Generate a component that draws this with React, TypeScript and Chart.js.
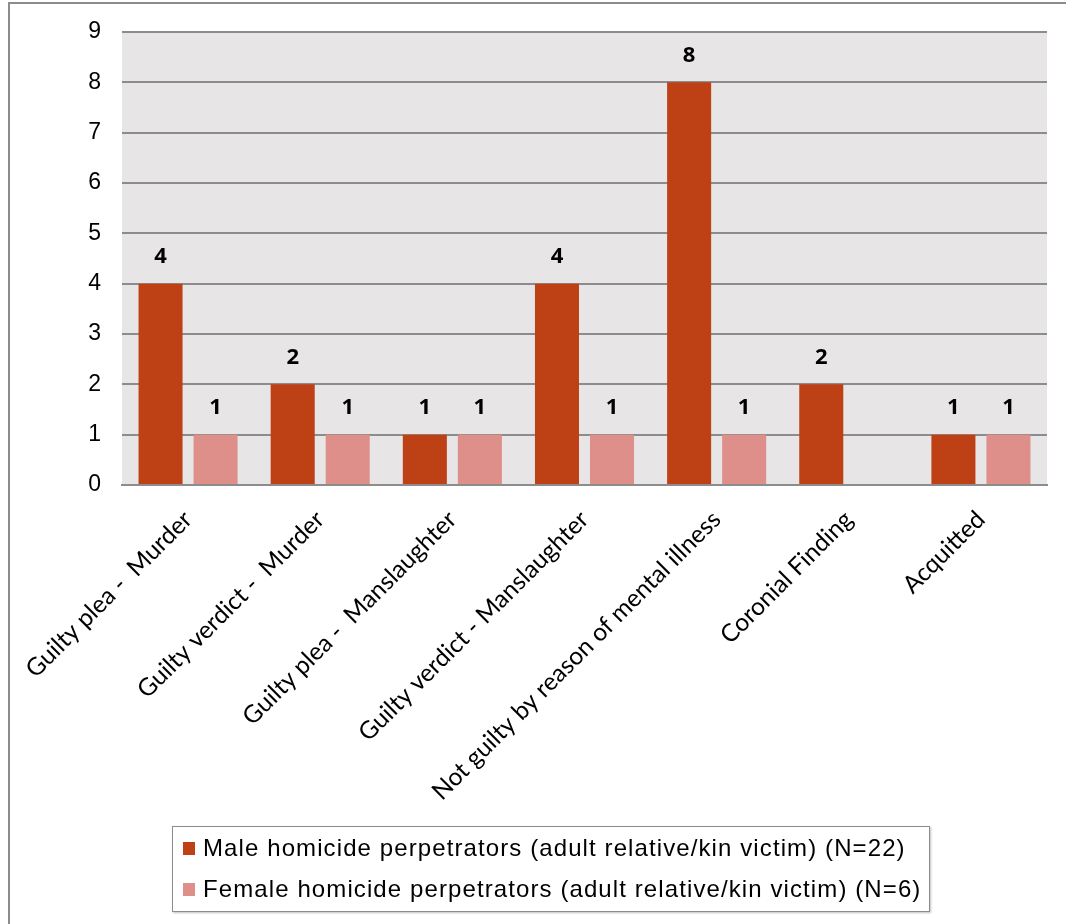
import React, { useEffect, useRef } from "react";
import { Chart, registerables } from "chart.js";

Chart.register(...registerables);

const categories = [
  "Guilty plea -  Murder",
  "Guilty verdict -  Murder",
  "Guilty plea -  Manslaughter",
  "Guilty verdict - Manslaughter",
  "Not guilty by reason of mental illness",
  "Coronial Finding",
  "Acquitted",
];
const maleValues = [4, 2, 1, 4, 8, 2, 1];
const femaleValues = [1, 1, 1, 1, 1, 0, 1];
const seriesNames = [
  "Male homicide perpetrators (adult relative/kin victim) (N=22)",
  "Female homicide perpetrators (adult relative/kin victim) (N=6)",
];
const seriesColors = ["#be4015", "#df8f89"];
const yTicks = [0, 1, 2, 3, 4, 5, 6, 7, 8, 9];

const plotBg = {
  id: "plotBg",
  beforeDraw(chart: any) {
    const { ctx, chartArea } = chart;
    ctx.save();
    ctx.fillStyle = "#e7e5e5";
    ctx.fillRect(chartArea.left, chartArea.top, chartArea.right - chartArea.left, chartArea.bottom - chartArea.top);
    ctx.restore();
  },
};

const dataLabels = {
  id: "dataLabels",
  afterDatasetsDraw(chart: any) {
    const { ctx } = chart;
    ctx.save();
    ctx.font = "bold 22px 'Open Sans'";
    ctx.fillStyle = "#000";
    ctx.textAlign = "center";
    ctx.textBaseline = "middle";
    chart.data.datasets.forEach((ds: any, i: number) => {
      const meta = chart.getDatasetMeta(i);
      meta.data.forEach((bar: any, j: number) => {
        const v = ds.data[j];
        if (!v) return;
        ctx.fillText(String(v), bar.x, bar.y - 27);
      });
    });
    ctx.restore();
  },
};

export default function App() {
  const ref = useRef<HTMLCanvasElement>(null);
  useEffect(() => {
    if (!ref.current) return;
    const chart = new Chart(ref.current, {
      type: "bar",
      data: {
        labels: categories,
        datasets: [
          { label: seriesNames[0], data: maleValues, backgroundColor: seriesColors[0] },
          { label: seriesNames[1], data: femaleValues, backgroundColor: seriesColors[1] },
        ],
      },
      plugins: [plotBg, dataLabels],
      options: {
        responsive: false,
        animation: false,
        layout: { padding: { top: 28, right: 19, left: 0, bottom: 0 } },
        plugins: { legend: { display: false }, tooltip: { enabled: false }, title: { display: false } },
        datasets: { bar: { categoryPercentage: 0.833, barPercentage: 0.8 } },
        scales: {
          x: {
            grid: { display: false, drawTicks: false },
            border: { display: true, color: "#8c8c8c", width: 2 },
            ticks: {
              minRotation: 45,
              maxRotation: 45,
              padding: 20,
              color: "#000",
              font: { family: "Lato", size: 24.5 },
            },
            afterFit(scale: any) {
              scale.height = 435;
              scale.paddingLeft = 0;
              scale.paddingRight = 0;
            },
          },
          y: {
            min: 0,
            max: 9,
            afterBuildTicks(scale: any) {
              scale.ticks = yTicks.map((v) => ({ value: v }));
            },
            grid: { color: "#8c8c8c", lineWidth: 2, drawTicks: false },
            border: { display: false },
            ticks: {
              padding: 21,
              color: "#000",
              font: { family: "'Liberation Sans', Arial", size: 23 },
            },
            afterFit(scale: any) {
              scale.width = 112;
              scale.paddingTop = 0;
              scale.paddingBottom = 0;
            },
          },
        },
      },
    });
    return () => chart.destroy();
  }, []);

  const legendItem = (i: number, top: number) => (
    <div
      style={{
        position: "absolute",
        left: 10,
        top,
        display: "flex",
        alignItems: "center",
        fontFamily: "'Liberation Sans', Arial",
        fontSize: 24,
        letterSpacing: 1.1,
        color: "#000",
        whiteSpace: "nowrap",
        lineHeight: "28px",
      }}
    >
      <span style={{ display: "inline-block", width: 12, height: 13, background: seriesColors[i], marginRight: 8 }} />
      <span>{seriesNames[i]}</span>
    </div>
  );

  return (
    <div
      style={{
        position: "absolute",
        left: 8,
        top: 2,
        width: 1058,
        height: 922,
        borderLeft: "2px solid #8c8c8c",
        borderTop: "2px solid #8c8c8c",
        boxSizing: "border-box",
        background: "#fff",
      }}
    >
      <canvas ref={ref} width={1056} height={916} style={{ position: "absolute", left: 0, top: 0 }} />
      <div
        style={{
          position: "absolute",
          left: 162,
          top: 822,
          width: 758,
          height: 86,
          border: "1px solid #8c8c8c",
          boxShadow: "1px 1px 2px rgba(0,0,0,0.25)",
          boxSizing: "border-box",
          background: "#fff",
        }}
      >
        {legendItem(0, 7)}
        {legendItem(1, 48)}
      </div>
    </div>
  );
}
